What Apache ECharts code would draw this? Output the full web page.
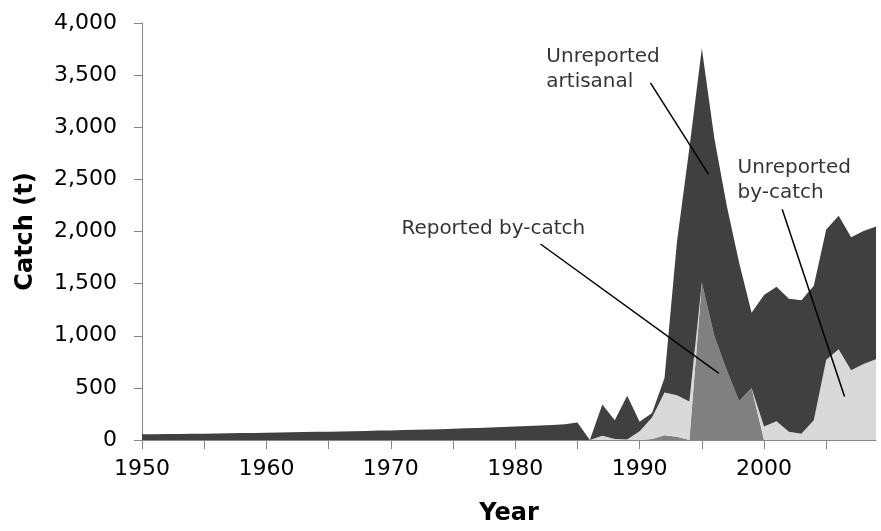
<!DOCTYPE html>
<html>
<head>
<meta charset="utf-8">
<script src="https://cdn.jsdelivr.net/npm/echarts@6/dist/echarts.min.js"></script>
<style>
html,body{margin:0;padding:0;background:#fff;}
#chart{width:881px;height:531px;}
</style>
</head>
<body>
<div id="chart"></div>
<script>
// ---- Data ----
const years = [];
for (let y = 1950; y <= 2009; y++) years.push(String(y));

const reportedBycatch = [
  0,0,0,0,0,0,0,0,0,0,
  0,0,0,0,0,0,0,0,0,0,
  0,0,0,0,0,0,0,0,0,0,
  0,0,0,0,0,0,0,0,0,0,
  0,10,45,30,0,1510,1000,670,375,500,
  0,0,0,0,0,0,0,0,0,0
];
const unreportedBycatch = [
  0,0,0,0,0,0,0,0,0,0,
  0,0,0,0,0,0,0,0,0,0,
  0,0,0,0,0,0,0,0,0,0,
  0,0,0,0,0,0,0,40,10,5,
  85,205,410,400,370,0,0,0,0,0,
  130,180,80,60,190,770,870,670,730,775
];
const unreportedArtisanal = [
  54,55,57,58,60,61,63,65,66,68,
  70,72,74,76,78,80,82,85,87,90,
  92,95,98,101,104,108,112,116,120,125,
  130,135,140,145,150,169,0,300,180,419,
  90,45,140,1470,2430,2245,1900,1580,1325,720,
  1260,1290,1275,1280,1290,1250,1280,1275,1275,1273
];
const yTicks = ['0','500','1,000','1,500','2,000','2,500','3,000','3,500','4,000'];

// annotations: text, anchor (year, value), leader start/end (year, value)
const annoTexts = ['Unreported\nartisanal', 'Reported by-catch', 'Unreported\nby-catch'];
const annoAnchors = [[1982.5, 3560], [1970.85, 2023], [1997.87, 2494]];
const annoLines = [
  [[1990.87, 3426], [1995.54, 2548]],
  [[1982.03, 1880], [1996.37, 639]],
  [[2001.46, 2214], [2006.47, 417]]
];

const FONT = 'DejaVu Sans';
const axisColor = '#868686';

const series = [
  { name: 'Reported by-catch', data: reportedBycatch, color: '#808080' },
  { name: 'Unreported by-catch', data: unreportedBycatch, color: '#d9d9d9' },
  { name: 'Unreported artisanal', data: unreportedArtisanal, color: '#404040' }
].map(s => ({
  name: s.name,
  type: 'line',
  stack: 'total',
  data: s.data,
  symbol: 'none',
  showSymbol: false,
  lineStyle: { width: 0, opacity: 0 },
  areaStyle: { color: s.color, opacity: 1 },
  itemStyle: { color: s.color },
  z: 2,
  silent: true
}));

annoLines.forEach(l => {
  series.push({
    type: 'line',
    xAxisIndex: 1,
    data: l,
    symbol: 'none',
    showSymbol: false,
    lineStyle: { color: '#000', width: 1.5 },
    z: 5,
    silent: true
  });
});

series.push({
  type: 'scatter',
  xAxisIndex: 1,
  symbolSize: 0,
  itemStyle: { color: '#000' },
  data: annoAnchors.map((a, i) => ({ value: a, name: annoTexts[i] })),
  label: {
    show: true,
    position: [0, 0],
    align: 'left',
    verticalAlign: 'middle',
    formatter: p => p.name,
    fontFamily: FONT,
    fontSize: 20,
    lineHeight: 25,
    color: '#000',
    textBorderWidth: 0
  },
  z: 6,
  silent: true
});

const chart = echarts.init(document.getElementById('chart'), null, { renderer: 'canvas' });
chart.setOption({
  animation: false,
  backgroundColor: '#fff',
  grid: { left: 142, right: 5, top: 23, bottom: 89, containLabel: false },
  xAxis: [
    {
      type: 'category',
      data: years,
      boundaryGap: false,
      name: 'Year',
      nameLocation: 'middle',
      nameGap: 62,
      nameTextStyle: { fontFamily: FONT, fontSize: 24, fontWeight: 'bold', color: '#000' },
      axisLine: { lineStyle: { color: axisColor, width: 1 } },
      axisTick: { show: true, length: 9, interval: i => i % 5 === 0, lineStyle: { color: axisColor } },
      axisLabel: {
        interval: i => i % 10 === 0,
        margin: 18,
        fontFamily: FONT, fontSize: 22, color: '#000'
      },
      splitLine: { show: false }
    },
    { type: 'value', min: 1950, max: 2009, show: false }
  ],
  yAxis: {
    type: 'value',
    min: 0, max: 4000, interval: 500,
    name: 'Catch (t)',
    nameLocation: 'middle',
    nameGap: 104,
    nameTextStyle: { fontFamily: FONT, fontSize: 24, fontWeight: 'bold', color: '#000' },
    axisLine: { show: true, lineStyle: { color: axisColor, width: 1 } },
    axisTick: { show: true, length: 8, lineStyle: { color: axisColor } },
    axisLabel: {
      margin: 25,
      fontFamily: FONT, fontSize: 22, color: '#000',
      formatter: v => yTicks[Math.round(v / 500)]
    },
    splitLine: { show: false }
  },
  series: series
});
</script>
</body>
</html>
